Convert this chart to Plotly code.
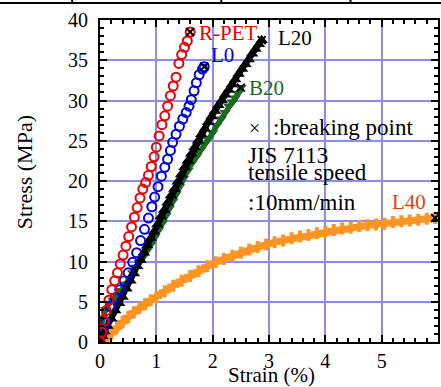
import plotly.graph_objects as go

# ---------------- data ----------------
rpet_strain = [0, 0.03, 0.07, 0.11, 0.16, 0.21, 0.26, 0.31, 0.36, 0.41, 0.46, 0.51, 0.56, 0.61,
               0.66, 0.71, 0.76, 0.81, 0.86, 0.91, 0.96, 1.0, 1.05, 1.1, 1.15, 1.2, 1.25, 1.3,
               1.35, 1.4, 1.45, 1.5, 1.55, 1.6]
rpet_stress = [0, 1.2, 2.6, 3.9, 5.2, 6.5, 7.6, 8.6, 9.7, 10.8, 11.9, 13.1, 14.3, 15.5,
               16.7, 17.9, 19.0, 19.8, 20.7, 21.8, 23.0, 24.2, 25.6, 27.0, 28.1, 29.3, 30.6, 31.8,
               32.9, 34.6, 35.7, 36.6, 37.4, 38.5]

l0_strain = [0, 0.05, 0.1, 0.18, 0.27, 0.35, 0.43, 0.5, 0.58, 0.65, 0.72, 0.79, 0.86, 0.92,
             0.97, 1.03, 1.09, 1.15, 1.2, 1.25, 1.29, 1.35, 1.41, 1.47, 1.53, 1.58, 1.62, 1.67,
             1.71, 1.76, 1.82, 1.85]
l0_stress = [0, 1.2, 2.4, 4.4, 5.5, 6.5, 7.6, 8.6, 9.9, 11.1, 12.6, 14.0, 15.4, 16.8,
             18.0, 19.3, 20.6, 21.7, 22.7, 23.8, 24.8, 25.8, 26.8, 27.7, 28.5, 29.3, 30.1, 31.2,
             32.2, 33.2, 33.9, 34.2]

l20_strain = [0, 0.04, 0.08, 0.13, 0.2, 0.27, 0.34, 0.4, 0.47, 0.54, 0.6, 0.66, 0.72, 0.78,
              0.84, 0.9, 0.96, 1.02, 1.08, 1.14, 1.2, 1.26, 1.32, 1.38, 1.44, 1.5, 1.56, 1.62,
              1.68, 1.74, 1.8, 1.86, 1.92, 1.98, 2.04, 2.1, 2.16, 2.22, 2.28, 2.34, 2.4, 2.46,
              2.52, 2.58, 2.64, 2.7, 2.76, 2.82, 2.87]
l20_stress = [0, 0.7, 1.3, 2.0, 2.9, 3.9, 4.8, 5.6, 6.6, 7.6, 8.5, 9.4, 10.2, 11.1,
              12.0, 12.9, 13.7, 14.6, 15.6, 16.4, 17.3, 18.2, 19.0, 19.9, 20.8, 21.7, 22.5, 23.4,
              24.2, 25.0, 25.8, 26.5, 27.3, 28.0, 28.7, 29.4, 30.0, 30.7, 31.3, 32.0, 32.6, 33.3,
              33.9, 34.5, 35.1, 35.8, 36.4, 37.0, 37.5]

b20_strain = [0, 0.02, 0.05, 0.1, 0.16, 0.23, 0.3, 0.37, 0.45, 0.52, 0.58, 0.64, 0.7, 0.77,
              0.83, 0.9, 0.97, 1.04, 1.11, 1.17, 1.23, 1.29, 1.35, 1.41, 1.48, 1.56, 1.63, 1.71,
              1.78, 1.85, 1.92, 2.0, 2.07, 2.15, 2.22, 2.29, 2.35, 2.4, 2.45, 2.5]
b20_stress = [0, 1.5, 3.0, 4.0, 4.8, 5.2, 5.7, 6.4, 7.2, 7.9, 8.6, 9.3, 9.9, 10.6,
              11.3, 12.1, 13.0, 13.9, 14.8, 15.7, 16.6, 17.5, 18.4, 19.3, 20.3, 21.3, 22.2, 23.0,
              23.8, 24.5, 25.2, 26.0, 26.9, 27.7, 28.5, 29.3, 29.8, 30.3, 30.9, 31.6]

l40_strain = [0.05, 0.12, 0.2, 0.3, 0.4, 0.5, 0.6, 0.7, 0.8, 0.9, 1.0, 1.15, 1.3, 1.45, 1.6,
              1.75, 1.9, 2.05, 2.2, 2.35, 2.5, 2.65, 2.8, 2.95, 3.1, 3.25, 3.4, 3.55, 3.7, 3.85,
              4.0, 4.15, 4.3, 4.45, 4.6, 4.75, 4.9, 5.05, 5.2, 5.35, 5.5, 5.65, 5.8, 5.95]
l40_stress = [0.0, 0.5, 1.1, 1.8, 2.5, 3.1, 3.7, 4.2, 4.7, 5.2, 5.6, 6.3, 7.0, 7.6, 8.2,
              8.8, 9.4, 9.9, 10.3, 10.7, 11.1, 11.5, 11.8, 12.1, 12.4, 12.6, 12.9, 13.1, 13.3, 13.5,
              13.7, 13.9, 14.1, 14.2, 14.4, 14.5, 14.6, 14.7, 14.9, 15.0, 15.1, 15.2, 15.3, 15.4]

series_names = ["R-PET", "L0", "L20", "B20", "L40"]

# ---------------- figure ----------------
FONT = "Times New Roman, Liberation Serif, Tinos, DejaVu Serif, serif"
fig = go.Figure()

fig.add_trace(go.Scatter(x=l40_strain, y=l40_stress, mode="lines+markers",
                         line=dict(color="#ff9a2a", width=7),
                         marker=dict(symbol="cross", size=10, color="#ff9422")))
fig.add_trace(go.Scatter(x=b20_strain, y=b20_stress, mode="lines+markers",
                         line=dict(color="#1c6a1c", width=5),
                         marker=dict(symbol="triangle-down", size=10, color="#1c6a1c")))
fig.add_trace(go.Scatter(x=l20_strain, y=l20_stress, mode="lines+markers",
                         line=dict(color="black", width=6),
                         marker=dict(symbol="triangle-up", size=11, color="black")))
fig.add_trace(go.Scatter(x=l0_strain, y=l0_stress, mode="markers",
                         marker=dict(symbol="circle-open", size=9, color="#0000e0",
                                     line=dict(width=2, color="#0000e0"))))
fig.add_trace(go.Scatter(x=rpet_strain, y=rpet_stress, mode="markers",
                         marker=dict(symbol="circle-open", size=9, color="#ee0000",
                                     line=dict(width=2, color="#ee0000"))))

# breaking points = last point of every series
brk_x = [rpet_strain[-1], l0_strain[-1], l20_strain[-1], b20_strain[-1], l40_strain[-1]]
brk_y = [rpet_stress[-1], l0_stress[-1], l20_stress[-1], b20_stress[-1], l40_stress[-1]]
fig.add_trace(go.Scatter(x=brk_x, y=brk_y, mode="markers",
                         marker=dict(symbol="x-thin-open", size=8, color="black",
                                     line=dict(width=2, color="black"))))

grid = "rgb(140,140,238)"
common = dict(showline=True, linewidth=2, linecolor="black", mirror="ticks",
              ticks="inside", tickwidth=2, ticklen=7, tickcolor="black",
              showgrid=True, gridcolor=grid, gridwidth=2, zeroline=False,
              tickfont=dict(family=FONT, size=20, color="black"))

fig.update_xaxes(range=[0, 6], tick0=0, dtick=1,
                 minor=dict(dtick=0.2, ticks="inside", ticklen=4, tickwidth=1.5,
                            tickcolor="black", showgrid=False), **common)
fig.update_yaxes(range=[0, 40], tick0=0, dtick=5, ticklabelstandoff=6,
                 minor=dict(dtick=1, ticks="inside", ticklen=4, tickwidth=1.5,
                            tickcolor="black", showgrid=False), **common)

anns = [
    dict(x=1.73, y=38.4, text="R-PET", color="#ee0000", size=21),
    dict(x=1.94, y=35.7, text="L0", color="#0000e0", size=21),
    dict(x=3.12, y=37.8, text="L20", color="black", size=21),
    dict(x=2.61, y=31.6, text="B20", color="#1c6a1c", size=21),
    dict(x=3.03, y=26.6, text=":breaking point", color="black", size=23),
    dict(x=2.59, y=23.2, text="JIS 7113", color="black", size=23),
    dict(x=2.59, y=21.0, text="tensile speed", color="black", size=23),
    dict(x=2.59, y=17.3, text=":10mm/min", color="black", size=23),
]
for a in anns:
    fig.add_annotation(x=a["x"], y=a["y"], xref="x", yref="y", text=a["text"],
                       showarrow=False, xanchor="left", yanchor="middle",
                       font=dict(family=FONT, size=a["size"], color=a["color"]))
fig.add_annotation(x=5.83, y=17.4, xref="x", yref="y", text="L40", showarrow=False,
                   xanchor="right", yanchor="middle",
                   font=dict(family=FONT, size=21, color="#dd4411"))
fig.add_annotation(x=2.75, y=26.6, xref="x", yref="y", text="×", showarrow=False,
                   xanchor="center", yanchor="middle",
                   font=dict(family=FONT, size=20, color="black"))

# axis titles
fig.add_annotation(x=-0.221, y=0.528, xref="paper", yref="paper", text="Stress (MPa)",
                   textangle=-90, showarrow=False, xanchor="center", yanchor="middle",
                   font=dict(family=FONT, size=22, color="black"))
fig.add_annotation(x=0.506, y=-0.103, xref="paper", yref="paper", text="Strain (%)",
                   showarrow=False, xanchor="center", yanchor="middle",
                   font=dict(family=FONT, size=21, color="black"))

# remnant of a table border at the very top of the picture
fig.add_shape(type="line", xref="paper", yref="paper", x0=-0.3, x1=1.01, y0=1.0528, y1=1.0528,
              line=dict(color="black", width=2))
for xp in [-0.0824, 0.3588, 0.7412]:
    fig.add_shape(type="line", xref="paper", yref="paper", x0=xp, x1=xp, y0=1.0528, y1=1.07,
                  line=dict(color="black", width=2))

fig.update_layout(width=441, height=387, showlegend=False,
                  margin=dict(l=100, r=1, t=20, b=45),
                  font=dict(family=FONT, color="black"),
                  paper_bgcolor="white", plot_bgcolor="white")

fig.write_html("out.html", config={"displayModeBar": False},
               post_script="document.body.style.margin='0';document.body.style.overflow='hidden';")
